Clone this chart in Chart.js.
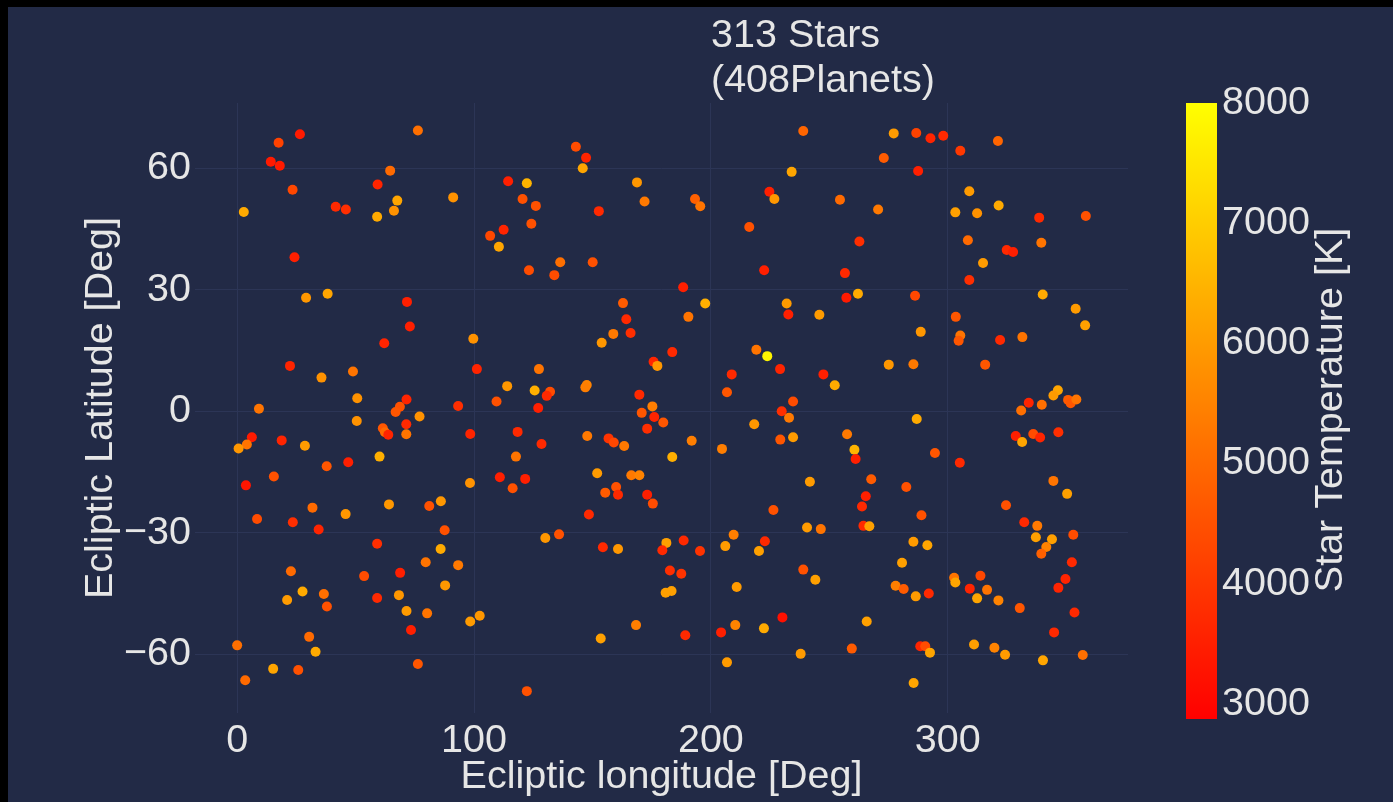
<!DOCTYPE html>
<html>
<head>
<meta charset="utf-8">
<title>Stars</title>
<script src="https://cdn.jsdelivr.net/npm/chart.js@4.4.1/dist/chart.umd.min.js"></script>
<style>
  html, body { margin: 0; padding: 0; background: #000; overflow: hidden; }
  #caja { position: absolute; left: 8px; top: 7px; width: 1385px; height: 795px; background: #222a46; }
</style>
</head>
<body>
<div id="caja"><canvas id="grafico"></canvas></div>
<script>
// ecliptic longitude [deg]
const lon = [
  26.5,17.5,14.2,18.0,23.4,2.8,41.6,45.9,24.2,76.3,64.6,59.3,67.6,66.2,59.1,91.2,106.8,110.5,29.1,38.2,71.7,
  72.9,62.1,99.7,22.3,35.6,48.9,101.2,50.7,9.2,71.5,68.7,66.9,77.0,93.3,109.5,50.5,61.5,62.4,63.8,71.4,
  71.4,98.4,6.2,4.1,0.6,18.8,28.6,60.1,37.8,46.9,3.7,15.5,98.3,110.9,31.8,64.1,81.1,86.0,
  8.4,23.5,45.8,34.4,87.6,59.1,85.9,79.6,93.3,22.7,53.6,68.8,27.6,36.6,21.1,37.9,59.1,68.3,71.5,80.2,
  87.8,73.4,98.4,102.4,30.4,0.0,33.1,15.2,25.8,3.4,76.3,
  143.0,147.3,145.9,114.4,122.3,120.5,126.1,112.5,124.2,152.7,168.8,172.0,193.3,195.5,239.0,234.1,224.7,226.8,216.2,222.5,
  123.2,133.9,136.4,150.1,188.3,162.9,197.6,232.0,
  232.7,190.5,164.3,158.8,166.1,153.9,183.7,175.8,177.4,219.2,223.8,229.2,208.8,206.8,234.7,229.9,233.0,218.3,229.3,234.7,
  204.7,127.4,114.0,125.6,132.1,130.7,127.1,147.6,147.0,169.8,175.3,170.8,176.1,179.9,173.1,118.4,128.5,117.7,147.8,156.8,
  159.0,163.4,191.9,183.7,121.6,116.3,152.0,166.4,169.8,160.0,155.4,160.8,173.1,175.5,226.4,241.8,
  148.5,240.6,130.1,135.9,154.4,160.8,181.2,179.5,188.5,195.4,209.6,206.1,222.8,220.3,239.0,182.7,187.5,180.9,183.4,210.9,
  230.2,168.4,153.5,189.2,204.3,210.3,222.4,237.9,206.8,122.3,
  277.2,286.7,292.7,298.1,305.3,321.2,273.0,287.5,309.1,254.5,270.6,303.2,312.4,321.5,338.6,358.3,262.7,308.5,324.9,327.6,
  339.5,314.9,256.6,309.1,257.2,262.1,286.2,340.1,354.0,
  245.8,288.6,303.4,305.3,304.6,322.1,331.5,358.0,275.1,285.5,315.8,247.5,252.3,346.5,344.6,350.8,351.9,354.3,334.2,339.7,
  331.0,286.9,257.5,260.6,261.1,294.6,305.1,328.7,336.1,339.0,346.7,331.4,267.7,282.5,265.4,263.8,344.6,350.4,324.6,
  246.4,264.4,266.9,288.9,285.5,291.4,280.7,244.1,278.0,281.4,286.5,292.0,302.7,303.2,313.8,309.3,316.6,312.4,321.4,330.4,
  332.3,337.8,337.2,344.0,341.6,339.5,353.0,352.4,349.7,346.7,353.5,344.9,265.8,259.5,288.4,290.5,292.5,285.6,311.1,319.7,
  324.2,340.2,357.0
];

// ecliptic latitude [deg]
const lat = [
  68.4,66.3,61.6,60.6,54.7,49.2,50.5,49.8,38.0,69.3,59.4,56.0,52.0,49.5,48.0,52.8,43.3,40.6,28.0,29.0,27.0,
  20.9,16.8,17.9,11.2,8.3,9.8,10.4,3.2,0.6,2.9,1.1,-0.2,-1.3,1.3,2.4,-2.4,-4.2,-5.2,-5.8,-3.2,
  -5.7,-5.6,-6.4,-8.2,-9.2,-7.2,-8.5,-11.2,-13.6,-12.6,-18.3,-16.1,-17.7,-16.3,-23.8,-23.0,-23.4,-22.2,
  -26.6,-27.4,-25.4,-29.2,-29.4,-32.7,-34.0,-37.3,-38.0,-39.5,-40.7,-39.9,-44.5,-45.1,-46.6,-48.2,-46.1,-45.4,-49.3,-49.9,
  -43.0,-54.0,-51.9,-50.5,-55.7,-57.8,-59.4,-63.6,-63.9,-66.4,-62.4,
  65.3,62.6,60.0,56.8,56.3,52.4,50.7,44.8,46.3,49.4,56.5,51.8,52.4,50.6,69.2,59.1,54.2,52.4,45.5,34.8,
  34.8,33.6,36.8,36.8,30.6,26.7,26.6,26.6,
  23.9,23.3,22.7,19.1,19.3,16.9,14.6,12.2,11.2,15.2,13.6,10.4,9.1,4.7,2.4,0.0,-1.6,-3.2,-7.0,-6.4,
  -9.3,10.4,6.2,5.1,4.8,3.8,0.8,6.5,5.9,4.1,1.2,-0.4,-1.4,-2.8,-4.3,-5.1,-8.1,-11.2,-6.1,-6.7,
  -7.7,-8.6,-7.3,-11.3,-16.7,-19.0,-15.3,-15.8,-15.8,-18.7,-20.1,-20.6,-20.6,-22.8,-24.4,-17.4,
  -25.5,-28.7,-31.3,-30.4,-33.6,-34.0,-32.5,-34.3,-31.9,-34.5,-30.5,-33.3,-32.1,-34.5,-39.1,-39.3,-40.1,-44.8,-44.4,-43.4,
  -50.9,-52.8,-56.1,-55.3,-54.6,-52.8,-53.6,-59.9,-62.0,-69.1,
  68.6,68.7,67.4,68.0,64.3,66.7,62.5,59.3,54.3,52.2,49.8,49.1,48.9,50.8,47.8,48.2,41.9,42.2,39.8,39.3,
  41.6,36.6,34.1,32.4,28.0,29.0,28.5,28.8,25.3,
  23.8,19.6,23.3,18.7,17.4,17.6,18.3,21.2,11.5,11.6,11.5,9.1,6.4,5.2,3.9,2.8,2.0,2.9,2.1,1.6,
  0.2,-1.9,-5.7,-9.5,-11.8,-10.3,-12.7,-6.1,-5.6,-6.5,-5.2,-7.6,-16.8,-18.7,-21.0,-23.5,-17.2,-20.4,-23.2,
  -29.1,-28.3,-28.4,-25.7,-32.2,-33.1,-37.4,-41.6,-43.1,-43.9,-45.7,-45.0,-41.1,-42.3,-40.6,-43.8,-44.1,-46.2,-46.7,-48.6,
  -27.4,-28.3,-31.1,-31.6,-33.5,-35.2,-30.5,-37.3,-41.4,-43.6,-49.7,-54.6,-51.9,-58.6,-58.0,-58.0,-59.6,-67.1,-57.6,-58.4,
  -60.1,-61.5,-60.2
];

// star temperature [K]
const tempK = [
  3400,4200,3400,3400,4300,6300,3700,3800,3500,5100,5000,3600,6200,5800,6300,5800,4300,6200,5900,6200,3500,
  3500,3600,5800,3600,5800,5200,3600,5800,5200,3600,4500,4600,5800,3800,4500,5800,4600,5000,3600,3700,
  5200,3600,3400,5200,5900,3600,6000,6400,4600,3500,3300,4500,5800,3500,5000,5900,4500,5900,
  4400,3800,5900,3600,4500,3800,6300,5200,5300,5000,4400,3500,6300,5100,6000,4500,3700,5900,6000,5200,
  5900,3500,6000,5900,5000,5100,6300,6200,4500,5000,4600,
  4400,3600,6200,3500,6500,4500,4500,3600,4500,3700,5900,5300,4800,5200,4900,6200,3500,5900,4500,3500,
  4400,4400,5100,4500,3500,4700,6400,6000,
  3500,5200,3700,5300,3800,5900,3700,3600,5900,5200,7800,3600,3700,4600,4400,3800,5300,5900,4600,6000,
  5400,5200,5900,6400,4400,3700,3500,5500,5400,3700,5400,4600,3600,4600,3800,3700,3700,5200,5300,3900,
  4300,5300,5400,6400,3500,4500,6000,5300,5500,4500,4700,3700,3500,4400,4500,6000,
  3700,6000,5900,4500,3700,5900,6100,3700,3700,3900,5400,6000,3700,6100,4500,3800,3900,6100,6100,6000,
  3200,5400,6100,3700,3500,5500,6300,6000,6000,4500,
  6000,4200,3600,3700,4000,4900,4700,3500,6000,5000,5300,6100,5800,6300,3700,4500,3800,5000,3700,3500,
  5200,6000,3700,3800,3400,6300,4300,6300,6000,
  6000,5900,4600,5200,4600,3700,5200,6100,5900,5300,4600,3500,6300,6200,6000,4700,4600,5200,3600,5100,
  5100,6300,5300,6500,3500,4600,3700,3500,4400,3600,3800,6200,4700,4500,3500,3700,5200,6100,4500,
  5200,3700,6100,4500,6000,6200,6100,6100,5400,4700,6000,3700,5200,6200,4300,3600,5200,6200,5500,4600,
  3700,5300,6100,6100,5500,4800,4400,3700,3600,3600,3700,3700,6100,4700,3600,4400,6200,6200,6100,5500,
  6000,6200,5100
];

const lonTicks = [0, 100, 200, 300];
const latTicks = [-60, -30, 0, 30, 60];
const tempTicks = [3000, 4000, 5000, 6000, 7000, 8000];
const tempMin = 2875;
const tempMax = 8000;

const fuente = '"Liberation Sans", Arial, sans-serif';
const tam = 39.5;
const colorTexto = '#e6e6e6';

function colorTemp(t) {
  const f = Math.max(0, Math.min(1, (t - tempMin) / (tempMax - tempMin)));
  return 'rgb(255,' + Math.round(255 * f) + ',0)';
}

function menos(v) {
  return String(v).replace('-', '\u2212');
}

// titulo y barra de color
const extras = {
  id: 'extras',
  afterDraw(chart) {
    const ctx = chart.ctx;
    ctx.save();
    ctx.fillStyle = colorTexto;
    ctx.font = tam + 'px ' + fuente;
    ctx.textAlign = 'left';
    ctx.textBaseline = 'alphabetic';
    ctx.fillText('313 Stars', 703, 40);
    ctx.fillText('(408Planets)', 703, 85);

    const x0 = 1178, ancho = 31, arriba = 96, abajo = 712;
    const grad = ctx.createLinearGradient(0, abajo, 0, arriba);
    grad.addColorStop(0, colorTemp(tempMin));
    grad.addColorStop(1, colorTemp(tempMax));
    ctx.fillStyle = grad;
    ctx.fillRect(x0, arriba, ancho, abajo - arriba);

    ctx.fillStyle = colorTexto;
    ctx.textBaseline = 'middle';
    tempTicks.forEach(t => {
      const y = abajo - (t - tempMin) / (tempMax - tempMin) * (abajo - arriba);
      ctx.fillText(String(t), x0 + ancho + 5, y);
    });

    ctx.translate(1323, 403);
    ctx.rotate(-Math.PI / 2);
    ctx.textAlign = 'center';
    ctx.fillText('Star Temperature [K]', 0, 0);
    ctx.restore();
  }
};

const puntos = lon.map((x, i) => ({ x: x, y: lat[i] }));

new Chart(document.getElementById('grafico'), {
  type: 'scatter',
  data: {
    datasets: [{
      data: puntos,
      pointBackgroundColor: tempK.map(colorTemp),
      pointBorderWidth: 0,
      pointRadius: 5,
      pointHoverRadius: 5
    }]
  },
  options: {
    responsive: true,
    maintainAspectRatio: false,
    animation: false,
    events: [],
    layout: { padding: { left: 0, right: 265, top: 96, bottom: 0 } },
    plugins: { legend: { display: false }, tooltip: { enabled: false } },
    scales: {
      x: {
        type: 'linear',
        min: -17.8,
        max: 376.1,
        afterBuildTicks: s => { s.ticks = lonTicks.map(v => ({ value: v })); },
        afterFit: s => { s.height = 89; },
        grid: { color: '#2c3556', drawTicks: false },
        border: { display: false },
        ticks: { color: colorTexto, font: { family: fuente, size: tam }, padding: 4, maxRotation: 0 },
        title: { display: true, text: 'Ecliptic longitude [Deg]', color: colorTexto,
                 font: { family: fuente, size: tam }, padding: { top: 0, bottom: 1 } }
      },
      y: {
        min: -74.5,
        max: 76.1,
        afterBuildTicks: s => { s.ticks = latTicks.map(v => ({ value: v })); },
        afterFit: s => { s.width = 187; },
        grid: { color: '#2c3556', drawTicks: false },
        border: { display: false },
        ticks: { color: colorTexto, font: { family: fuente, size: tam }, padding: 4,
                 callback: v => menos(v) },
        title: { display: true, text: 'Ecliptic Latitude [Deg]', color: colorTexto,
                 font: { family: fuente, size: tam }, padding: { top: 69, bottom: 0 } }
      }
    }
  },
  plugins: [extras]
});
</script>
</body>
</html>
